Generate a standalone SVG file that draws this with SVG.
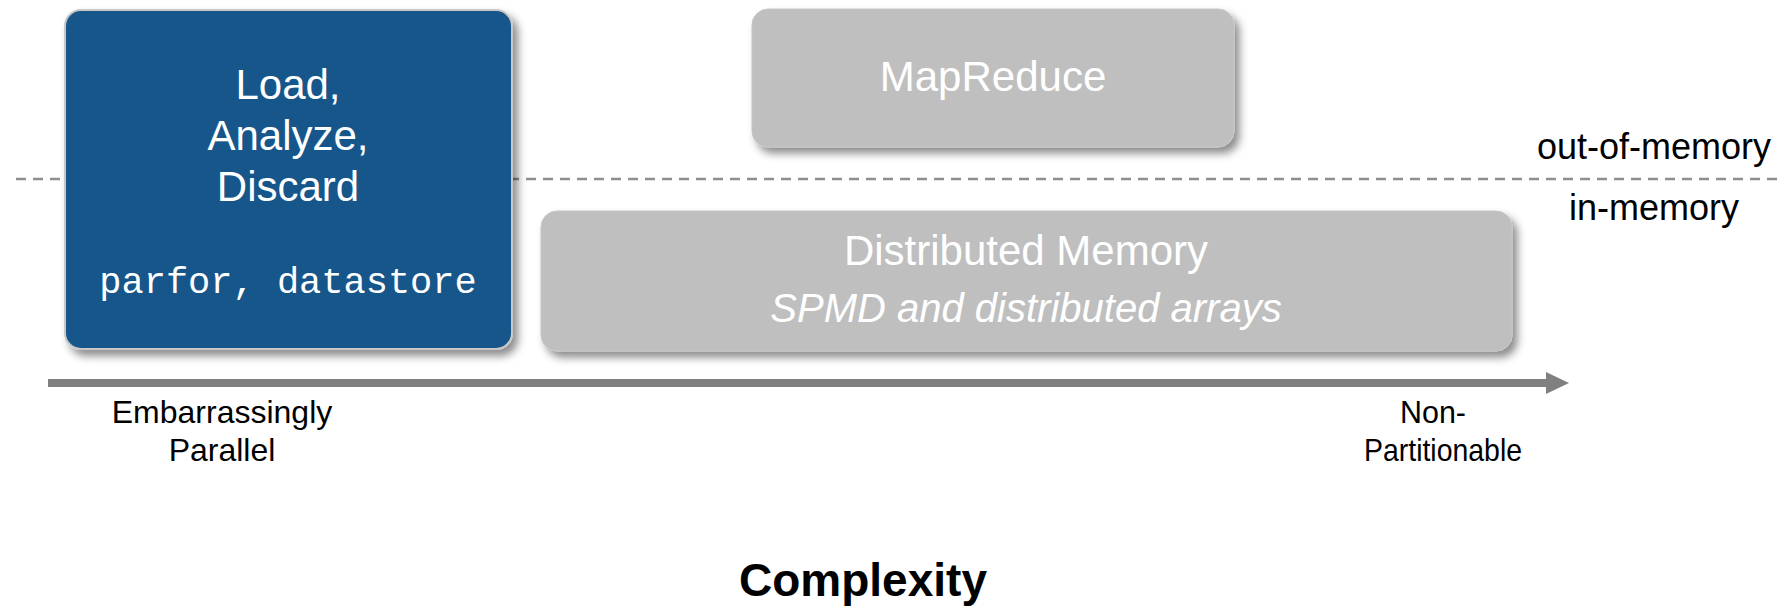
<svg xmlns="http://www.w3.org/2000/svg" width="1787" height="606" viewBox="0 0 1787 606">
<style>
.sans{font-family:"Liberation Sans",Arial,sans-serif}
.box-blue{fill:#14568A;stroke:#C8C8C8;stroke-width:2}
.box-gray{fill:#BFBFBF;stroke:#C6C6C6;stroke-width:1}
.white{fill:#FFFFFF}
.lbl{fill:#000000;font-size:32px}
.mem{fill:#000000;font-size:36px}
</style>
<defs>
<filter id="shadow" x="-10%" y="-20%" width="125%" height="150%">
<feDropShadow dx="5" dy="6" stdDeviation="4" flood-color="#000" flood-opacity="0.45"/>
</filter>
<marker id="arrowhead" markerUnits="userSpaceOnUse" markerWidth="24" markerHeight="24" refX="0" refY="11" orient="auto">
<path d="M0,0 L23,11 L0,22 Z" fill="#808080"/>
</marker>
</defs>
<rect width="1787" height="606" fill="#FFFFFF"/>
<g id="connectors">
<line x1="16" y1="179" x2="1780" y2="179" stroke="#8E8E8E" stroke-width="2.5" stroke-dasharray="10 7"/>
<line x1="48" y1="383" x2="1546" y2="383" stroke="#808080" stroke-width="8" marker-end="url(#arrowhead)"/>
</g>
<g id="node-load">
<rect class="box-blue" x="65" y="10" width="447" height="339" rx="16" filter="url(#shadow)"/>
<text class="sans white" x="288" y="99" font-size="42" text-anchor="middle">Load,</text>
<text class="sans white" x="288" y="150" font-size="42" text-anchor="middle">Analyze,</text>
<text class="sans white" x="288" y="201" font-size="42" text-anchor="middle">Discard</text>
<text class="white" x="288" y="293" font-size="37" text-anchor="middle" font-family="Liberation Mono, Courier New, monospace">parfor, datastore</text>
</g>
<g id="node-mapreduce">
<rect class="box-gray" x="752" y="9" width="482" height="138" rx="16" filter="url(#shadow)"/>
<text class="sans white" x="993" y="91" font-size="42" text-anchor="middle">MapReduce</text>
</g>
<g id="node-distributed">
<rect class="box-gray" x="541" y="211" width="971" height="140" rx="16" filter="url(#shadow)"/>
<text class="sans white" x="1026" y="265" font-size="42" text-anchor="middle">Distributed Memory</text>
<text class="sans white" x="1026" y="322" font-size="40" font-style="italic" text-anchor="middle">SPMD and distributed arrays</text>
</g>
<g id="labels">
<text class="sans mem" x="1654" y="159" text-anchor="middle">out-of-memory</text>
<text class="sans mem" x="1654" y="220" text-anchor="middle">in-memory</text>
<text class="sans lbl" x="222" y="423" text-anchor="middle">Embarrassingly</text>
<text class="sans lbl" x="222" y="461" text-anchor="middle">Parallel</text>
<text class="sans lbl" x="1433" y="423" text-anchor="middle" textLength="66" lengthAdjust="spacingAndGlyphs">Non-</text>
<text class="sans lbl" x="1443" y="461" text-anchor="middle" textLength="158" lengthAdjust="spacingAndGlyphs">Partitionable</text>
<text class="sans" x="863" y="596" font-size="46" font-weight="bold" text-anchor="middle" fill="#000000">Complexity</text>
</g>
</svg>
